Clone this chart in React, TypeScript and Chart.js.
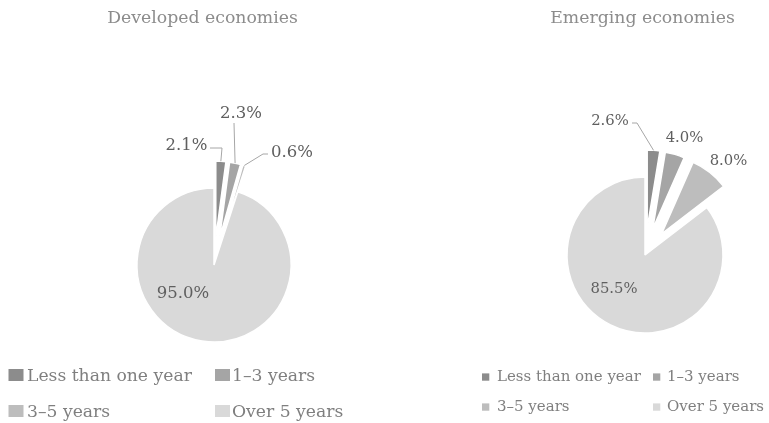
import React, { useEffect, useRef } from 'react';
import { Chart, registerables, ArcElement } from 'chart.js';

Chart.register(...registerables);

// ---- data ----
const categories = ['Less than one year', '1–3 years', '3–5 years', 'Over 5 years'];
const developedValues = [2.1, 2.3, 0.6, 95.0];
const emergingValues = [2.6, 4.0, 8.0, 85.5];
const panelTitles = ['Developed economies', 'Emerging economies'];

// ---- styles ----
const sliceColors = ['#8c8c8c', '#a5a5a5', '#bdbdbd', '#d9d9d9'];
const FONT = '"DejaVu Serif", serif';
const TITLE_COLOR = '#8c8c8c';
const LABEL_COLOR = '#5f5f5f';
const LEGEND_COLOR = '#7f7f7f';
const LEADER_COLOR = '#a6a6a6';

type Pt = [number, number];
type Panel = {
  title: string;
  values: number[];
  left: number;
  width: number;
  radius: number;
  padding: { left: number; right: number; top: number; bottom: number };
  explode: number[];
  titleX: number;
  titleY: number;
  titleSize: number;
  labelSize: number;
  labelPos: Pt[];
  leaders: (Pt[] | null)[];
  legendSize: number;
  box: Pt;
  colSquare: number[];
  colText: number[];
  rows: number[];
};

const panels: Panel[] = [
  {
    title: panelTitles[0],
    values: developedValues,
    left: 0,
    width: 384,
    radius: 77,
    padding: { left: 114, right: 70, top: 165, bottom: 58 },
    explode: [27, 27, 27, 0],
    titleX: 202.5,
    titleY: 22.7,
    titleSize: 17.3,
    labelSize: 16.5,
    labelPos: [[-27.5, -115], [27, -147], [78, -108], [-31, 33]],
    leaders: [[[-4, -117], [8, -117]], [[20, -142]], [[54, -111], [49, -111]], null],
    legendSize: 17.2,
    box: [15, 12],
    colSquare: [8.5, 215],
    colText: [27, 232],
    rows: [381, 417],
  },
  {
    title: panelTitles[1],
    values: emergingValues,
    left: 384,
    width: 385,
    radius: 78,
    padding: { left: 161, right: 24, top: 155, bottom: 68 },
    explode: [27, 27, 27, 0],
    titleX: 258.5,
    titleY: 22.7,
    titleSize: 17.3,
    labelSize: 14.8,
    labelPos: [[-35, -130], [39.5, -113], [83.5, -90], [-31, 38]],
    leaders: [[[-13, -132], [-8, -132]], null, null, null],
    legendSize: 15,
    box: [7.3, 7.3],
    colSquare: [98, 269],
    colText: [113, 283],
    rows: [380.7, 410.7],
  },
];

function PiePanel({ p }: { p: Panel }) {
  const ref = useRef<HTMLCanvasElement>(null);
  useEffect(() => {
    const canvas = ref.current as HTMLCanvasElement;
    const explodePlugin = {
      id: 'explodeSlices',
      afterDatasetsUpdate(chart: any) {
        const meta = chart.getDatasetMeta(0);
        meta.data.forEach((arc: any, i: number) => {
          const t = p.explode[i] || 0;
          if (!t || arc.$exploded) return;
          arc.$exploded = true;
          const baseDraw = ArcElement.prototype.draw;
          arc.draw = function (ctx: CanvasRenderingContext2D, area: any) {
            const a = (this.startAngle + this.endAngle) / 2;
            ctx.save();
            ctx.translate(Math.cos(a) * t, Math.sin(a) * t);
            baseDraw.call(this, ctx, area);
            ctx.restore();
          };
        });
      },
    };
    const textPlugin = {
      id: 'panelText',
      afterDraw(chart: any) {
        const ctx: CanvasRenderingContext2D = chart.ctx;
        const meta = chart.getDatasetMeta(0);
        const cx = meta.data[0].x;
        const cy = meta.data[0].y;
        ctx.save();
        // title
        ctx.font = `${p.titleSize}px ${FONT}`;
        ctx.fillStyle = TITLE_COLOR;
        ctx.textAlign = 'center';
        ctx.textBaseline = 'alphabetic';
        ctx.fillText(p.title, p.titleX, p.titleY);
        // data labels + leader lines
        meta.data.forEach((arc: any, i: number) => {
          const [dx, dy] = p.labelPos[i];
          ctx.font = `${p.labelSize}px ${FONT}`;
          ctx.fillStyle = LABEL_COLOR;
          ctx.textAlign = 'center';
          ctx.fillText(p.values[i].toFixed(1) + '%', cx + dx, cy + dy);
          const ld = p.leaders[i];
          if (ld) {
            const a = (arc.startAngle + arc.endAngle) / 2;
            const r = arc.outerRadius + (p.explode[i] || 0);
            const ex = cx + Math.cos(a) * r;
            const ey = cy + Math.sin(a) * r;
            ctx.beginPath();
            ctx.moveTo(cx + ld[0][0], cy + ld[0][1]);
            for (let k = 1; k < ld.length; k++) ctx.lineTo(cx + ld[k][0], cy + ld[k][1]);
            ctx.lineTo(ex, ey);
            ctx.strokeStyle = LEADER_COLOR;
            ctx.lineWidth = 1;
            ctx.stroke();
          }
        });
        // legend
        ctx.font = `${p.legendSize}px ${FONT}`;
        ctx.textAlign = 'left';
        categories.forEach((c, i) => {
          const col = i % 2;
          const row = Math.floor(i / 2);
          const base = p.rows[row];
          ctx.fillStyle = sliceColors[i];
          ctx.fillRect(p.colSquare[col], base - p.box[1], p.box[0], p.box[1]);
          ctx.fillStyle = LEGEND_COLOR;
          ctx.fillText(c, p.colText[col], base);
        });
        ctx.restore();
      },
    };
    const chart = new Chart(canvas, {
      type: 'pie',
      data: {
        labels: categories,
        datasets: [
          {
            data: p.values,
            backgroundColor: sliceColors,
            borderColor: '#ffffff',
            borderWidth: 1.5,
            radius: p.radius,
          } as any,
        ],
      },
      options: {
        responsive: false,
        animation: false,
        events: [],
        layout: { padding: p.padding },
        plugins: {
          legend: { display: false },
          tooltip: { enabled: false },
          title: { display: false },
        },
      },
      plugins: [explodePlugin, textPlugin],
    });
    return () => chart.destroy();
  }, []);
  return (
    <canvas
      ref={ref}
      width={p.width}
      height={423}
      style={{ position: 'absolute', left: p.left, top: 0, width: p.width, height: 423 }}
    />
  );
}

export default function App() {
  return (
    <div style={{ position: 'absolute', left: 0, top: 0, width: 769, height: 423, background: '#ffffff' }}>
      {panels.map((p, i) => (
        <PiePanel key={i} p={p} />
      ))}
    </div>
  );
}
